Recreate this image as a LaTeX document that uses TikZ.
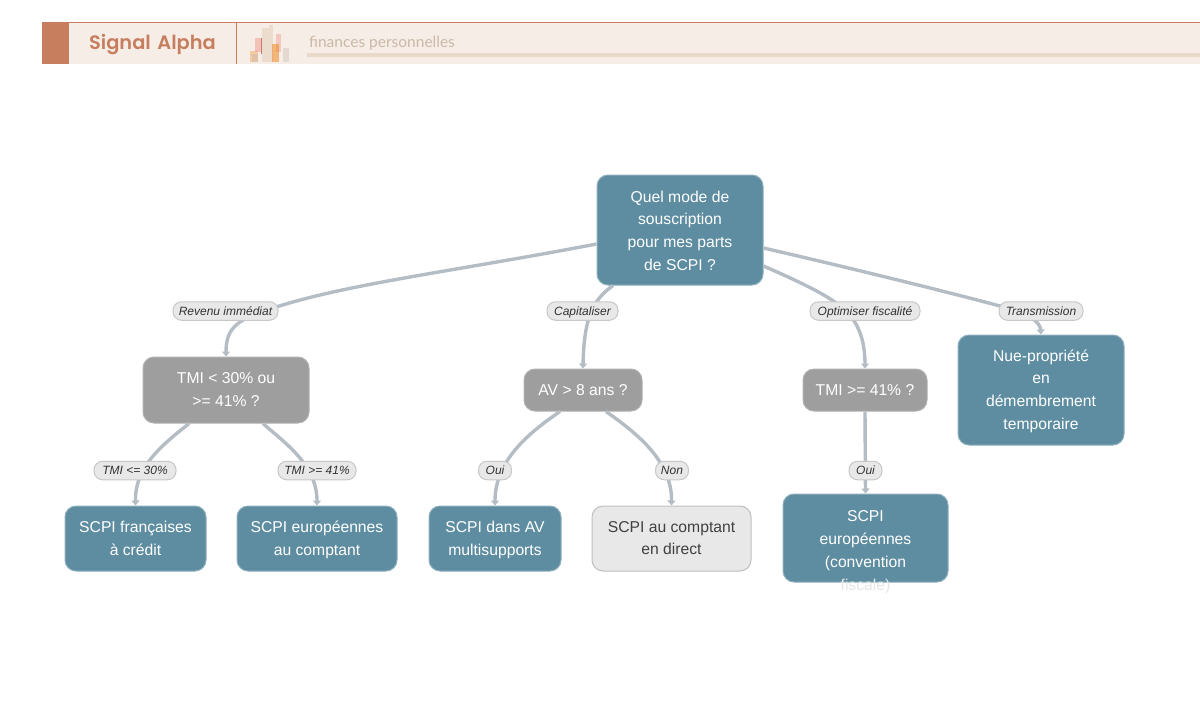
\documentclass[tikz,border=0pt]{standalone}
\usepackage{fontspec}
\setmainfont{Liberation Sans}
\newfontfamily\popp{Poppins}[UprightFont=* SemiBold]
\newfontfamily\latol{Lato}
\usetikzlibrary{arrows.meta}
\definecolor{teal}{HTML}{5E8DA1}
\definecolor{grayb}{HTML}{9E9E9E}
\definecolor{edgec}{HTML}{B4BCC4}
\definecolor{bandc}{HTML}{F6EDE7}
\definecolor{rust}{HTML}{C67E5F}
\definecolor{sand}{HTML}{E8D9CA}
\definecolor{subt}{HTML}{CBB9A6}
\tikzset{
  x=1pt,y=-1pt,
  boxbase/.style={rounded corners=11pt,inner sep=0pt,line width=1pt},
  boxtext/.style={inner sep=0pt,align=center,
    font=\fontsize{15.7}{22.8}\selectfont,text=white,
    execute at begin node=\strut,execute at end node=\strut},
  tealbox/.style={boxbase,fill=teal,draw=teal!70!white},
  graybox/.style={boxbase,fill=grayb,draw=grayb!80!white},
  palebox/.style={boxbase,fill=black!9,draw=black!25},
  pill/.style={rounded corners=8.5pt,inner sep=0pt,fill=black!9,draw=black!22,line width=1pt,
    minimum height=18.5pt,text height=10.5pt,text depth=2.5pt,
    font=\fontsize{12}{13}\selectfont\itshape,text=black!80},
  edge/.style={draw=edgec,line width=3.4pt,-{Triangle[length=5pt,width=8pt]}},
  bar/.style={draw=none,opacity=.5},
}
\begin{document}
\begin{tikzpicture}
\useasboundingbox (0,0) rectangle (1200,721);
% header
\fill[bandc] (42,22) rectangle (1200,64);
\draw[rust,line width=1pt] (42,22) -- (1200,22);
\fill[rust] (42,22) rectangle (69,64);
\draw[rust,line width=1pt] (236.5,22) -- (236.5,64);
\node[font=\popp\fontsize{19.4}{24}\selectfont,text=rust,inner sep=0pt] (title) at (152.5,45) {Signal\hspace{2pt} Alpha};
\fill[sand] (307,53) rectangle (1200,57);
\node[font=\latol\fontsize{15.5}{18}\selectfont,text=subt,inner sep=0pt,anchor=west] (sub) at (309,43) {finances personnelles};
% icon
\fill[bar,fill=orange!55!sand] (250,51) rectangle (258,62);
\fill[bar,fill=sand!70!gray] (252,54) rectangle (258,62);
\fill[bar,fill=red!30!sand] (255,38) rectangle (261,52);
\fill[bar,fill=red!60!black] (261,38) rectangle (261.7,54);
\fill[bar,fill=sand!85!brown] (262,28) rectangle (269,62);
\fill[bar,fill=sand!85!brown] (269,25) rectangle (273,62);
\fill[bar,fill=red!25!sand] (276,34) rectangle (281,52);
\fill[bar,fill=orange!75!brown] (272,44) rectangle (279,62);
\fill[bar,fill=sand!80!gray] (283,48) rectangle (289,62);
% nodes
\node[tealbox,minimum width=166,minimum height=110,label={[boxtext,yshift=-4pt]center:Quel mode de\\souscription\\pour mes parts\\de SCPI ?}] (root) at (680,230) {};
\node[graybox,minimum width=166,minimum height=66,label={[boxtext,yshift=-3pt]center:TMI < 30\% ou\\>= 41\% ?}] (a) at (226,390) {};
\node[graybox,minimum width=118,minimum height=42,label={[boxtext,yshift=-1pt]center:AV > 8 ans ?}] (b) at (583,390) {};
\node[graybox,minimum width=124,minimum height=42,label={[boxtext,yshift=-1pt]center:TMI >= 41\% ?}] (c) at (865,390) {};
\node[tealbox,minimum width=166,minimum height=110,label={[boxtext,yshift=-3pt]center:Nue-propriété\\en\\démembrement\\temporaire}] (d) at (1041,390) {};
\node[tealbox,minimum width=141,minimum height=65,label={[boxtext,yshift=-3pt]center:SCPI françaises\\à crédit}] (e) at (135.5,538.5) {};
\node[tealbox,minimum width=160,minimum height=65,label={[boxtext,yshift=-3pt]center:SCPI européennes\\au comptant}] (f) at (317,538.5) {};
\node[tealbox,minimum width=132,minimum height=65,label={[boxtext,yshift=-3pt]center:SCPI dans AV\\multisupports}] (g) at (495,538.5) {};
\node[palebox,minimum width=159,minimum height=65,label={[boxtext,text=black!75,yshift=-3pt]center:SCPI au comptant\\en direct}] (h) at (671.5,538.5) {};
\node[tealbox,minimum width=165,minimum height=88,
  label={[boxtext,yshift=-16pt]center:SCPI\\européennes\\(convention\\\textcolor{black!10}{fiscale)}}] (i) at (865.5,538) {};
% connectors
\draw[edge] ([yshift=-14pt]root.west) .. controls (450,272) and (345,284) .. (270,309)
   .. controls (240,319) and (226,326) .. (a.north);
\draw[edge] ([xshift=-67pt]root.south) .. controls (596,298) and (584,312) .. (b.north);
\draw[edge] ([yshift=-36pt]root.east) .. controls (800,282) and (830,296) .. (845,310)
   .. controls (858,322) and (865,340) .. (c.north);
\draw[edge] ([yshift=-18pt]root.east) .. controls (850,268) and (940,290) .. (1000,306)
   .. controls (1030,314) and (1040,322) .. (d.north);
\draw[edge] ([xshift=-37pt]a.south) .. controls (165,443) and (135,465) .. (e.north);
\draw[edge] ([xshift=37pt]a.south) .. controls (285,443) and (317,465) .. (f.north);
\draw[edge] ([xshift=-23pt]b.south) .. controls (530,432) and (495,460) .. (g.north);
\draw[edge] ([xshift=23pt]b.south) .. controls (635,432) and (672,460) .. (h.north);
\draw[edge] (c.south) -- (i.north);
% edge labels
\node[pill,minimum width=105] (l1) at (225.5,311) {Revenu immédiat};
\node[pill,minimum width=71] (l2) at (582.5,311) {Capitaliser};
\node[pill,minimum width=110] (l3) at (865,311) {Optimiser fiscalité};
\node[pill,minimum width=84] (l4) at (1041,311) {Transmission};
\node[pill,minimum width=82] (l5) at (135,470.5) {TMI <= 30\%};
\node[pill,minimum width=78] (l6) at (317,470.5) {TMI >= 41\%};
\node[pill,minimum width=33] (l7) at (495,470.5) {Oui};
\node[pill,minimum width=33] (l8) at (672,470.5) {Non};
\node[pill,minimum width=33] (l9) at (865.5,470.5) {Oui};
\end{tikzpicture}
\end{document}
